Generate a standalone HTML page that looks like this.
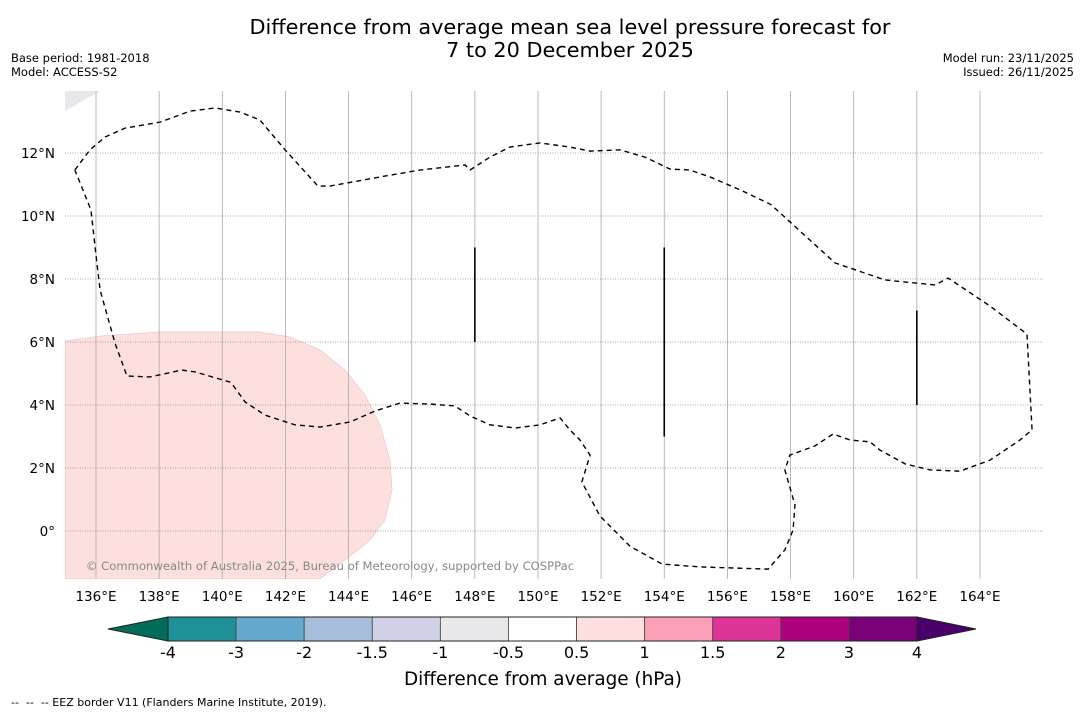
<!DOCTYPE html>
<html><head><meta charset="utf-8"><style>
body{margin:0;background:#fff;width:1085px;height:713px;overflow:hidden;font-family:"DejaVu Sans","Liberation Sans",sans-serif}
</style></head><body>
<svg id="s" width="1085" height="713" xmlns="http://www.w3.org/2000/svg" font-family="DejaVu Sans, Liberation Sans, sans-serif">
<text x="570" y="34" font-size="20.8" text-anchor="middle">Difference from average mean sea level pressure forecast for</text>
<text x="570" y="57" font-size="20.8" text-anchor="middle">7 to 20 December 2025</text>
<text x="11" y="62" font-size="11.5">Base period: 1981-2018</text>
<text x="11" y="76" font-size="11.5">Model: ACCESS-S2</text>
<text x="1074" y="62" font-size="11.5" text-anchor="end">Model run: 23/11/2025</text>
<text x="1074" y="76" font-size="11.5" text-anchor="end">Issued: 26/11/2025</text>
<g id="map"></g>
<g id="cb"></g>
<text x="543" y="685" font-size="18.4" text-anchor="middle">Difference from average (hPa)</text>
<text x="11" y="706" font-size="11" xml:space="preserve" style="white-space:pre">--  --  -- EEZ border V11 (Flanders Marine Institute, 2019).</text>
</svg>
<script>
const lonTicks=[136,138,140,142,144,146,148,150,152,154,156,158,160,162,164];
const latTicks=[0,2,4,6,8,10,12];
const anomalyLon=[135.02,136.13,138.03,141.19,142.15,143.10,143.89,144.52,145.0,145.31,145.38,145.15,144.68,143.89,143.10,135.02];
const anomalyLat=[6.03,6.19,6.32,6.32,6.16,5.75,5.11,4.32,3.37,2.25,1.30,0.35,-0.29,-0.92,-1.52,-1.52];
const eezLon=[135.33,135.81,136.29,136.92,138.03,138.98,139.77,140.56,141.19,141.99,143.03,143.41,145.00,146.26,147.69,147.85,148.48,149.11,150.06,151.01,151.65,152.60,153.39,154.18,154.81,155.45,156.40,157.35,157.67,158.30,159.41,160.99,162.58,162.99,164.32,165.49,165.65,165.27,164.32,163.37,162.42,161.63,160.83,160.52,159.88,159.35,158.77,157.98,157.82,158.14,158.08,157.82,157.29,155.13,153.93,152.91,151.96,151.39,151.65,151.33,151.01,150.70,150.06,149.27,148.48,147.85,147.37,146.58,145.63,144.84,144.05,143.10,142.30,141.35,140.72,140.31,140.24,139.14,138.72,137.71,136.98,136.60,136.13,136.00,135.84,135.65,135.33];
const eezLat=[11.46,12.10,12.51,12.79,12.98,13.33,13.43,13.30,13.05,12.10,10.95,10.95,11.24,11.46,11.62,11.46,11.87,12.19,12.32,12.19,12.06,12.10,11.87,11.49,11.46,11.24,10.83,10.38,10.10,9.52,8.51,7.97,7.81,8.03,7.14,6.25,3.21,2.89,2.25,1.90,1.94,2.13,2.57,2.83,2.89,3.08,2.70,2.41,1.94,0.83,0.03,-0.60,-1.21,-1.14,-1.05,-0.48,0.48,1.56,2.41,2.89,3.21,3.59,3.37,3.27,3.37,3.65,3.97,4.03,4.06,3.81,3.46,3.30,3.37,3.68,4.10,4.67,4.73,5.05,5.11,4.89,4.92,5.97,7.65,8.76,10.19,10.67,11.46];
const segLon=[148,154,162];
const segLat0=[9,9,7];
const segLat1=[6,3,4];
const levels=[-4,-3,-2,-1.5,-1,-0.5,0.5,1,1.5,2,3,4];
const colors=['#1f8f98','#66a9cf','#a6bddb','#d0d1e6','#e8e8ea','#ffffff','#fde0dd','#fa9fb5','#dd3497','#ae017e','#7a0177'];
const extLow='#016c59', extHigh='#49006a';

const X0=65,X1=1043,Y0=91,Y1=579;
const xs=lon=>96+(lon-136)*31.57;
const ys=lat=>531-lat*31.5;
const NS='http://www.w3.org/2000/svg';
function mk(tag,attrs,parent){const e=document.createElementNS(NS,tag);for(const k in attrs)e.setAttribute(k,attrs[k]);parent.appendChild(e);return e;}
const map=document.getElementById('map');
const defs=mk('defs',{},map);
const cp=mk('clipPath',{id:'clip'},defs);
mk('rect',{x:X0,y:Y0,width:X1-X0,height:Y1-Y0},cp);
const g=mk('g',{'clip-path':'url(#clip)'},map);
const poly=mk('polygon',{points:anomalyLon.map((l,i)=>xs(l)+','+ys(anomalyLat[i])).join(' '),fill:'#fde0dd',stroke:'#e8c4c4','stroke-width':0.6},g);


const tri=mk('polygon',{points:`${X0},${Y0} 100,${Y0} ${X0},111`,fill:'#e8e8ec'},g);


lonTicks.forEach(l=>{
  const ln=mk('line',{x1:xs(l),x2:xs(l),y1:Y0,y2:Y1,stroke:'#aaa','stroke-width':0.8},g);
  
  
  const t=mk('text',{x:xs(l),y:601,'font-size':13.5,'text-anchor':'middle'},map);
  t.textContent=l+'°E';
  
  
});
latTicks.forEach(l=>{
  const ln=mk('line',{x1:X0,x2:X1,y1:ys(l),y2:ys(l),stroke:'#888','stroke-width':0.8,'stroke-dasharray':'1,1.5'},g);
  
  
  const t=mk('text',{x:55,y:ys(l)+5,'font-size':13.5,'text-anchor':'end'},map);
  t.textContent=l===0?'0°':l+'°N';
  
  
});
const eez=mk('polyline',{points:eezLon.map((l,i)=>xs(l)+','+ys(eezLat[i])).join(' '),fill:'none',stroke:'#000','stroke-width':1.4,'stroke-dasharray':'5,4'},g);


segLon.forEach((l,i)=>{
  const ln=mk('line',{x1:xs(l),x2:xs(l),y1:ys(segLat0[i]),y2:ys(segLat1[i]),stroke:'#000','stroke-width':1.6},g);
  
  
});
const cr=mk('text',{x:330,y:570,'font-size':11.6,fill:'#888','text-anchor':'middle'},map);
cr.textContent='© Commonwealth of Australia 2025, Bureau of Meteorology, supported by COSPPac';



const cb=document.getElementById('cb');
const CX0=168,CX1=917,CY0=617,CY1=641;
const w=(CX1-CX0)/colors.length;
const lo=mk('polygon',{points:`108,629 ${CX0},${CY0} ${CX0},${CY1}`,fill:extLow,stroke:'#222','stroke-width':1},cb);


const hi=mk('polygon',{points:`976,629 ${CX1},${CY0} ${CX1},${CY1}`,fill:extHigh,stroke:'#222','stroke-width':1},cb);


colors.forEach((c,i)=>{
  const r=mk('rect',{x:CX0+i*w,y:CY0,width:w,height:CY1-CY0,fill:c,stroke:'#444','stroke-width':0.8},cb);
  
  
});
mk('rect',{x:CX0,y:CY0,width:CX1-CX0,height:CY1-CY0,fill:'none',stroke:'#222','stroke-width':1},cb);
levels.forEach((v,i)=>{
  const t=mk('text',{x:CX0+i*w,y:658,'font-size':16,'text-anchor':'middle'},cb);
  t.textContent=String(v);
  
  
});
</script>
</body></html>
